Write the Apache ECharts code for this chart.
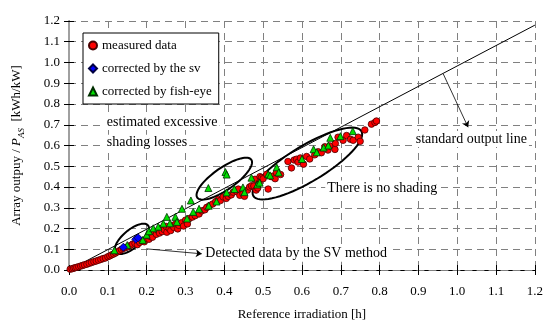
<!DOCTYPE html>
<html>
<head>
<meta charset="utf-8">
<script src="https://cdn.jsdelivr.net/npm/echarts@6/dist/echarts.min.js"></script>
<style>
html,body{margin:0;padding:0;background:#fff;}
#chart{width:546px;height:326px;}
</style>
</head>
<body>
<div id="chart"></div>
<script>
// ---------- data ----------
const xTickLabels = ['0.0','0.1','0.2','0.3','0.4','0.5','0.6','0.7','0.8','0.9','1.0','1.1','1.2'];
const yTickLabels = ['0.0','0.1','0.2','0.3','0.4','0.5','0.6','0.7','0.8','0.9','1.0','1.1','1.2'];

const measuredData = [
  [0.003,0.004],[0.008,0.006],[0.012,0.009],[0.016,0.011],[0.020,0.013],[0.025,0.016],[0.030,0.019],
  [0.035,0.022],[0.040,0.025],[0.046,0.028],[0.052,0.032],[0.058,0.036],[0.064,0.040],[0.070,0.043],
  [0.076,0.047],[0.082,0.051],[0.088,0.055],[0.094,0.058],[0.100,0.064],[0.105,0.068],[0.110,0.073],
  [0.115,0.077],[0.120,0.082],[0.125,0.088],[0.130,0.093],[0.135,0.099],[0.140,0.104],[0.146,0.108],
  [0.152,0.112],[0.158,0.118],[0.164,0.125],[0.170,0.128],[0.176,0.122],[0.182,0.133],[0.188,0.140],
  [0.194,0.136],[0.200,0.152],[0.206,0.148],[0.212,0.160],[0.218,0.168],
  [0.205,0.165],[0.210,0.175],[0.215,0.158],[0.220,0.185],[0.225,0.172],[0.230,0.190],[0.233,0.178],
  [0.238,0.200],[0.240,0.185],[0.245,0.195],[0.250,0.210],[0.252,0.182],[0.258,0.200],[0.262,0.190],
  [0.265,0.215],[0.270,0.205],[0.275,0.222],[0.280,0.198],[0.283,0.215],[0.290,0.228],[0.295,0.212],
  [0.300,0.240],[0.305,0.222],[0.310,0.248],[0.318,0.255],[0.325,0.262],
  [0.335,0.270],[0.342,0.285],[0.350,0.290],[0.355,0.302],[0.362,0.310],[0.370,0.318],[0.378,0.330],
  [0.385,0.340],[0.390,0.335],[0.397,0.352],[0.405,0.345],[0.410,0.355],[0.418,0.362],[0.423,0.375],
  [0.432,0.378],[0.436,0.390],[0.440,0.360],[0.448,0.367],[0.452,0.355],[0.460,0.385],[0.465,0.400],
  [0.470,0.406],[0.476,0.405],[0.479,0.437],[0.482,0.385],[0.486,0.395],[0.490,0.420],
  [0.492,0.450],[0.496,0.445],[0.500,0.440],[0.509,0.461],[0.513,0.390],[0.521,0.450],[0.525,0.452],
  [0.531,0.440],[0.534,0.469],[0.545,0.460],[0.564,0.523],[0.573,0.492],[0.580,0.530],[0.586,0.534],
  [0.590,0.520],[0.596,0.540],[0.604,0.510],[0.612,0.547],[0.620,0.535],[0.633,0.555],[0.642,0.570],
  [0.650,0.565],[0.659,0.594],[0.667,0.578],[0.672,0.598],[0.685,0.581],[0.686,0.610],[0.693,0.640],
  [0.706,0.625],[0.715,0.648],[0.725,0.630],[0.732,0.625],[0.745,0.640],[0.750,0.620],[0.762,0.675],
  [0.779,0.703],[0.788,0.711],[0.792,0.718]
];

const svData = [
  [0.140,0.110],[0.172,0.148],[0.178,0.155]
];

const fishEyeData = [
  [0.117,0.095],[0.150,0.120],[0.190,0.145],[0.200,0.170],[0.206,0.187],[0.217,0.201],[0.230,0.209],
  [0.243,0.224],[0.252,0.256],[0.260,0.225],[0.274,0.256],[0.278,0.232],[0.291,0.295],[0.304,0.248],
  [0.314,0.335],[0.320,0.280],[0.335,0.295],[0.359,0.395],[0.360,0.310],[0.380,0.330],
  [0.403,0.472],[0.406,0.460],[0.406,0.374],[0.426,0.390],[0.448,0.398],[0.452,0.375],[0.470,0.445],
  [0.485,0.412],[0.491,0.421],[0.513,0.461],[0.518,0.456],[0.535,0.495],[0.540,0.470],[0.600,0.535],
  [0.630,0.582],[0.638,0.567],[0.656,0.590],[0.668,0.600],[0.673,0.637],[0.699,0.645],[0.731,0.669]
];

const standardLine = [[0, 0], [1.2, 1.18]];

const seriesNames = ['measured data', 'corrected by the sv', 'corrected by fish-eye'];

// ---------- annotations (geometry of callouts) ----------
const ellipseDefs = [
  { cx: 0.162, cy: 0.150, a: 21, b: 9,  angle: 40 },
  { cx: 0.400, cy: 0.440, a: 33, b: 11, angle: 35 },
  { cx: 0.614, cy: 0.513, a: 63, b: 18, angle: 31 }
];
const arrowDefs = [
  { from: [0.964, 0.945], to: [1.028, 0.688] },
  { from: [0.199, 0.102], to: [0.342, 0.078] }
];
const textDefs = [
  { at: [0.092, 0.713], text: 'estimated excessive' },
  { at: [0.092, 0.613], text: 'shading losses' },
  { at: [0.888, 0.631], text: 'standard output line' },
  { at: [0.660, 0.393], text: 'There is no shading' },
  { at: [0.346, 0.078], text: 'Detected data by the SV method' }
];

const FONT = '"Liberation Serif", "DejaVu Serif", serif';
const GRID_DASH = [7, 5];
const chart = echarts.init(document.getElementById('chart'), null, { renderer: 'canvas' });

const axisCommon = {
  type: 'value', min: 0, max: 1.2, interval: 0.1,
  axisLine: { show: true, lineStyle: { color: '#000', width: 1 } },
  axisTick: { show: true, inside: true, length: 5, lineStyle: { color: '#000', width: 1 } },
  splitLine: { show: false }
};

const option = {
  animation: false,
  backgroundColor: '#fff',
  grid: { left: 69, right: 10, top: 21, bottom: 54, show: false },
  legend: {
    orient: 'vertical', left: 83, top: 33,
    data: seriesNames,
    itemWidth: 8, itemHeight: 8, itemGap: 8,
    padding: [5, 7, 5, 5],
    borderColor: '#000', borderWidth: 1, backgroundColor: '#fff',
    textStyle: { fontFamily: FONT, fontSize: 13, color: '#000', lineHeight: 15 }
  },
  xAxis: [
    Object.assign({}, axisCommon, {
      position: 'bottom',
      name: 'Reference irradiation [h]', nameLocation: 'middle', nameGap: 38,
      nameTextStyle: { fontFamily: FONT, fontSize: 13, color: '#000' },
      axisLabel: { fontFamily: FONT, fontSize: 13, color: '#000', margin: 15,
        formatter: v => xTickLabels[Math.round(v * 10)] },
      splitLine: { show: true, lineStyle: { color: '#808080', type: GRID_DASH, width: 1 } }
    }),
    Object.assign({}, axisCommon, { position: 'top', axisLabel: { show: false },
      axisLine: { show: true, lineStyle: { color: '#808080', width: 1, type: GRID_DASH } } })
  ],
  yAxis: [
    Object.assign({}, axisCommon, {
      position: 'left',
      name: '{a|Array outpuy / }{i|P}{s|AS}{a|  [kWh/kW]}',
      nameLocation: 'middle', nameGap: 43, nameRotate: 90,
      nameTextStyle: {
        fontFamily: FONT, fontSize: 13, color: '#000',
        rich: {
          a: { fontFamily: FONT, fontSize: 13, color: '#000', lineHeight: 18, verticalAlign: 'middle' },
          i: { fontFamily: FONT, fontSize: 13, fontStyle: 'italic', color: '#000', lineHeight: 18, verticalAlign: 'middle' },
          s: { fontFamily: FONT, fontSize: 9, fontStyle: 'italic', color: '#000', lineHeight: 18, verticalAlign: 'bottom', padding: [6, 0, 0, 0] }
        }
      },
      axisLabel: { fontFamily: FONT, fontSize: 13, color: '#000', margin: 9,
        formatter: v => yTickLabels[Math.round(v * 10)] },
      splitLine: { show: true, lineStyle: { color: '#808080', type: GRID_DASH, width: 1 } }
    }),
    Object.assign({}, axisCommon, { position: 'right', axisLabel: { show: false },
      axisLine: { show: true, lineStyle: { color: '#a0a0a0', width: 2 } } })
  ],
  series: [
    {
      name: 'standard', type: 'line', data: standardLine, symbol: 'none', silent: true,
      lineStyle: { color: '#000', width: 1 }, z: 3
    },
    {
      name: 'ellipses', type: 'custom', silent: true, z: 4, clip: false,
      data: ellipseDefs.map(e => [e.cx, e.cy]),
      renderItem: function (params, api) {
        const e = ellipseDefs[params.dataIndex];
        const c = api.coord([api.value(0), api.value(1)]);
        const t = -e.angle * Math.PI / 180;
        const pts = [];
        for (let k = 0; k < 72; k++) {
          const th = k / 72 * Math.PI * 2;
          const ex = e.a * Math.cos(th), ey = e.b * Math.sin(th);
          pts.push([c[0] + ex * Math.cos(t) - ey * Math.sin(t), c[1] + ex * Math.sin(t) + ey * Math.cos(t)]);
        }
        return { type: 'polygon', shape: { points: pts },
          style: { fill: 'none', stroke: '#000', lineWidth: 2 } };
      }
    },
    {
      name: 'arrows', type: 'lines', coordinateSystem: 'cartesian2d', silent: true, z: 4,
      symbol: ['none', 'arrow'], symbolSize: 6,
      lineStyle: { color: '#000', width: 0.8, opacity: 1 },
      data: arrowDefs.map(a => ({ coords: [a.from, a.to] }))
    },
    {
      name: seriesNames[0], type: 'scatter', data: measuredData, symbol: 'circle', symbolSize: 6.5,
      itemStyle: { color: '#ff0000', borderColor: '#4a0000', borderWidth: 0.8, opacity: 1 }, z: 5
    },
    {
      name: seriesNames[2], type: 'scatter', data: fishEyeData, symbol: 'triangle', symbolSize: 7,
      itemStyle: { color: '#00e000', borderColor: '#003000', borderWidth: 0.8, opacity: 1 }, z: 6
    },
    {
      name: seriesNames[1], type: 'scatter', data: svData, symbol: 'diamond', symbolSize: 8,
      itemStyle: { color: '#0000ff', borderColor: '#000040', borderWidth: 0.8, opacity: 1 }, z: 7
    },
    {
      name: 'texts', type: 'custom', silent: true, z: 8, clip: false,
      data: textDefs.map(t => t.at),
      renderItem: function (params, api) {
        const d = textDefs[params.dataIndex];
        const c = api.coord([api.value(0), api.value(1)]);
        return { type: 'text', x: c[0], y: c[1],
          style: { text: d.text, font: '14px ' + FONT, fill: '#000',
            align: 'left', verticalAlign: 'middle',
            backgroundColor: '#fff', padding: [1, 2, 1, 2] } };
      }
    }
  ]
};
chart.setOption(option);
</script>
</body>
</html>
